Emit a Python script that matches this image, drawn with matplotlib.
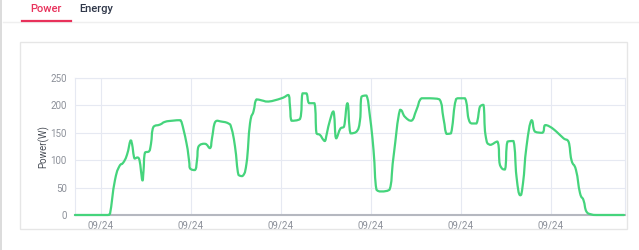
import matplotlib
matplotlib.use('Agg')
import matplotlib.pyplot as plt
from matplotlib.patches import Rectangle, PathPatch
from matplotlib.lines import Line2D
from matplotlib.path import Path

plt.rcParams['font.family'] = ['Roboto', 'DejaVu Sans']

# minutes from start of the window, and power in W
t_min = [0, 66, 70, 80, 90, 96, 104, 111, 114, 119, 125, 129, 132, 135, 137, 140,
         148, 152, 157, 170, 180, 194, 210, 213, 223, 228, 230, 240, 244, 247,
         260, 270, 274, 279, 284, 290, 307, 313, 320, 327, 335, 343, 350, 357,
         363, 374, 387, 413, 427, 430, 433, 450, 455, 463, 468, 479, 483, 490,
         496, 500, 504, 510, 517, 521, 523, 531, 538, 545, 551, 563, 570, 573,
         583, 590, 597, 603, 613, 629, 637, 650, 660, 673, 683, 693, 710, 729,
         737, 743, 752, 760, 765, 780, 787, 793, 803, 810, 817, 821, 830, 845,
         850, 860, 865, 877, 883, 890, 896, 903, 913, 920, 935, 940, 950, 963,
         977, 987, 993, 1002, 1010, 1017, 1023, 1033, 1043, 1098]
power_w = [0, 0, 2, 64, 91, 95, 110, 136, 130, 103, 105, 100, 80, 63, 80, 114,
           116, 130, 161, 165, 170, 172, 173, 170, 131, 100, 85, 82, 100, 125,
           130, 122, 140, 167, 172, 171, 167, 158, 125, 73, 71, 94, 167, 189,
           211, 209, 207, 213, 219, 198, 172, 175, 222, 222, 204, 204, 149, 146,
           138, 135, 150, 173, 189, 143, 140, 158, 161, 204, 149, 152, 173, 216,
           218, 179, 119, 46, 43, 46, 106, 192, 179, 172, 192, 213, 213, 211,
           176, 148, 149, 204, 213, 213, 176, 167, 167, 198, 201, 146, 128, 134,
           91, 83, 134, 135, 70, 36, 58, 125, 173, 152, 150, 164, 161, 152,
           140, 134, 100, 82, 40, 27, 6, 1, 0, 0]

tick_t = [52, 232, 412, 592, 772, 952]
tick_labels = ['09/24'] * 6
y_ticks = [0, 50, 100, 150, 200, 250]


def smooth_path(xs, ys, s=0.25):
    # bezier through the points, control points kept inside each segment's box
    verts = [(xs[0], ys[0])]
    codes = [Path.MOVETO]
    n = len(xs)
    for i in range(n - 1):
        x0, y0 = xs[i], ys[i]
        x1, y1 = xs[i + 1], ys[i + 1]
        xp, yp = (xs[i - 1], ys[i - 1]) if i > 0 else (x0, y0)
        xn, yn = (xs[i + 2], ys[i + 2]) if i + 2 < n else (x1, y1)
        lo, hi = min(y0, y1), max(y0, y1)
        c1x = x0 + (x1 - xp) * s
        c1y = min(max(y0 + (y1 - yp) * s, lo), hi)
        c2x = x1 - (xn - x0) * s
        c2y = min(max(y1 - (yn - y0) * s, lo), hi)
        c1x = min(max(c1x, x0), x1)
        c2x = min(max(c2x, x0), x1)
        verts += [(c1x, c1y), (c2x, c2y), (x1, y1)]
        codes += [Path.CURVE4] * 3
    return Path(verts, codes)


W, H = 639, 250
fig = plt.figure(figsize=(W / 100, H / 100), dpi=100)
fig.patch.set_facecolor('white')

# page chrome: left border, tab bar, card
fig.add_artist(Rectangle((0, 0), 2 / W, 1, transform=fig.transFigure,
                         facecolor='#dcdcdc', edgecolor='none'))
fig.add_artist(Line2D([3 / W, 1], [1 - 21.5 / H] * 2, transform=fig.transFigure,
                      color='#efefef', lw=1))
fig.add_artist(Line2D([22 / W, 71 / W], [1 - 20.5 / H] * 2, transform=fig.transFigure,
                      color='#e8315b', lw=1.6))
fig.text(46 / W, 1 - 8.5 / H, 'Power', color='#e8315b', fontsize=8,
         weight='medium', ha='center', va='center')
fig.text(96 / W, 1 - 8.5 / H, 'Energy', color='#2f3749', fontsize=8,
         weight='medium', ha='center', va='center')
fig.add_artist(Rectangle((19.5 / W, 1 - 229 / H), 607.5 / W, 187 / H,
                         transform=fig.transFigure, facecolor='none',
                         edgecolor='#e6e6e6', lw=1))

ax = fig.add_axes([75 / W, 35 / H, 550 / W, 137 / H])
line = PathPatch(smooth_path(t_min, power_w), facecolor='none', edgecolor='#45d47c',
                 lw=1.6, joinstyle='round', capstyle='round', zorder=3, clip_on=False)
ax.add_patch(line)

ax.set_xlim(0, 1100)
ax.set_ylim(0, 250)
ax.set_xticks(tick_t)
ax.set_xticklabels(tick_labels)
ax.set_yticks(y_ticks)
ax.grid(True, color='#e6e9f2', lw=0.8)
ax.set_axisbelow(True)

for side in ['top', 'right', 'left']:
    ax.spines[side].set_color('#e6e9f2')
    ax.spines[side].set_linewidth(0.8)
ax.spines['bottom'].set_color('#b5b8c0')
ax.spines['bottom'].set_linewidth(1.5)

ax.tick_params(axis='both', length=0, labelsize=7, labelcolor='#8c9099')
ax.tick_params(axis='x', pad=4)
ax.tick_params(axis='y', pad=6)
ax.set_ylabel('Power(W)', fontsize=7, color='#4a4f58', labelpad=1)

fig.savefig('out.png', dpi=100)
